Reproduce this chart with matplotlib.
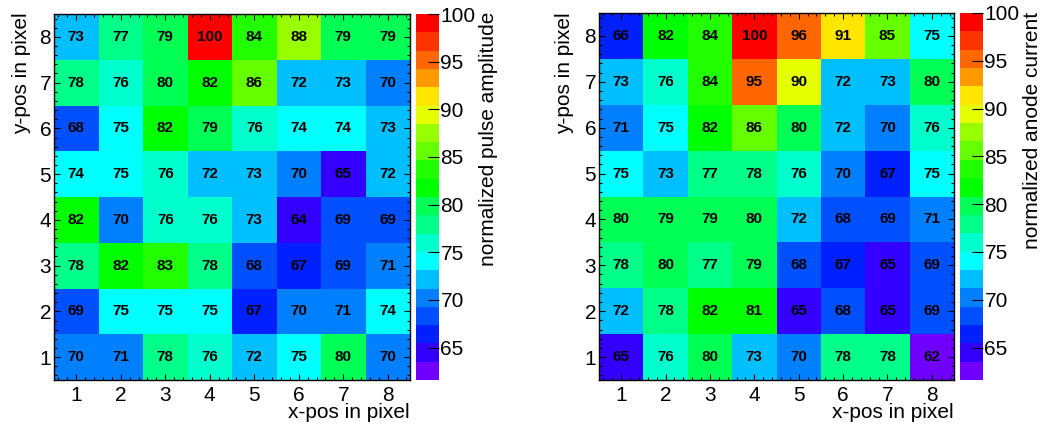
import numpy as np
import matplotlib
matplotlib.use("Agg")
import matplotlib.pyplot as plt
from matplotlib.colors import ListedColormap, BoundaryNorm

plt.rcParams['font.family'] = ['Liberation Sans', 'DejaVu Sans']

# pixel grid, rows listed from y=8 (top) down to y=1
pixels = [1, 2, 3, 4, 5, 6, 7, 8]
pulse_amp = [
    [73, 77, 79, 100, 84, 88, 79, 79],
    [78, 76, 80, 82, 86, 72, 73, 70],
    [68, 75, 82, 79, 76, 74, 74, 73],
    [74, 75, 76, 72, 73, 70, 65, 72],
    [82, 70, 76, 76, 73, 64, 69, 69],
    [78, 82, 83, 78, 68, 67, 69, 71],
    [69, 75, 75, 75, 67, 70, 71, 74],
    [70, 71, 78, 76, 72, 75, 80, 70],
]
anode_cur = [
    [66, 82, 84, 100, 96, 91, 85, 75],
    [73, 76, 84, 95, 90, 72, 73, 80],
    [71, 75, 82, 86, 80, 72, 70, 76],
    [75, 73, 77, 78, 76, 70, 67, 75],
    [80, 79, 79, 80, 72, 68, 69, 71],
    [78, 80, 77, 79, 68, 67, 65, 69],
    [72, 78, 82, 81, 65, 68, 65, 69],
    [65, 76, 80, 73, 70, 78, 78, 62],
]
zmin, zmax = 61.6, 100
cbar_ticks = [65, 70, 75, 80, 85, 90, 95, 100]

# ROOT rainbow palette as seen on the colour bar (bottom -> top), 20 contours
palette = ['#7000ff', '#3300ff', '#0020ff', '#0050ff', '#0080ff',
           '#00bfff', '#00ffff', '#00ffcc', '#00ff88', '#00ff55',
           '#00ff00', '#22ff00', '#66ff00', '#99ff00', '#e6ff00',
           '#ffe600', '#ff9900', '#ff6600', '#ff3300', '#ff0000']
cmap = ListedColormap(palette)
levels = np.linspace(zmin, zmax, len(palette) + 1)
norm = BoundaryNorm(levels, len(palette))

W, H = 1041, 426
fig = plt.figure(figsize=(W / 100, H / 100), dpi=100)


def box(x0, x1, y0, y1):
    return [x0 / W, 1 - y1 / H, (x1 - x0) / W, (y1 - y0) / H]


def draw(ax_box, cb_box, data, zlabel, ylab_x, zlab_x, xlab_r):
    ax = fig.add_axes(box(*ax_box))
    z = np.array(data)[::-1]
    edges = np.arange(0.5, 9.5, 1)
    im = ax.pcolormesh(edges, edges, z, cmap=cmap, norm=norm)
    for j, yv in enumerate(pixels):
        for i, xv in enumerate(pixels):
            ax.text(xv, yv, str(z[j, i]), ha='center', va='center',
                    fontsize=11, fontweight='bold', color='black')
    ax.set_xlim(0.5, 8.5)
    ax.set_ylim(0.5, 8.5)
    ax.set_xticks(pixels)
    ax.set_yticks(pixels)
    ax.set_xticks(np.arange(0.6, 8.5, 0.2), minor=True)
    ax.set_yticks(np.arange(0.6, 8.5, 0.2), minor=True)
    ax.tick_params(which='both', direction='in', top=True, right=True, width=0.8)
    ax.tick_params(which='major', length=4.5, labelsize=15)
    ax.tick_params(axis='x', which='major', pad=4)
    ax.tick_params(axis='y', which='major', pad=2)
    ax.tick_params(which='minor', length=2.2)
    for s in ax.spines.values():
        s.set_linewidth(1)
    fig.text(xlab_r / W, 1 - 413 / H, 'x-pos in pixel', ha='right', va='center', fontsize=15)
    fig.text(ylab_x / W, 1 - 12 / H, 'y-pos in pixel', ha='center', va='top',
             rotation=90, fontsize=15)

    cax = fig.add_axes(box(*cb_box))
    cb = fig.colorbar(im, cax=cax, ticks=cbar_ticks)
    cb.outline.set_linewidth(0)
    cax.tick_params(direction='in', length=8, width=0.8, labelsize=15, pad=1)
    cax.minorticks_off()
    fig.text(zlab_x / W, 1 - 12 / H, zlabel, ha='center', va='top',
             rotation=90, fontsize=15)


draw((54, 410, 14, 380), (416, 439, 14, 380), pulse_amp,
     'normalized pulse amplitude', 22, 488, 410)
draw((599, 954, 13, 380), (960, 983, 13, 380), anode_cur,
     'normalized anode current', 565, 1033, 954)

fig.savefig('out.png', dpi=100)
